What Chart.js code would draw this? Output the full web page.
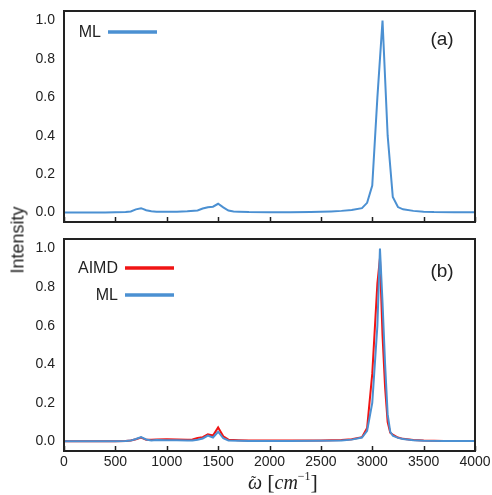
<!DOCTYPE html>
<html>
<head>
<meta charset="utf-8">
<script src="https://cdn.jsdelivr.net/npm/chart.js@4.4.0/dist/chart.umd.min.js"></script>
<style>
  body { margin: 0; background: #fff; }
  #wrap { position: relative; width: 492px; height: 495px; }
  canvas { position: absolute; left: 0; }
  #topChart { top: 0; }
  #bottomChart { top: 230px; }
  #ytitle {
    position: absolute; left: 18px; top: 240px;
    transform: translate(-50%, -50%) rotate(-90deg);
    font: 18px 'Liberation Sans', Arial, sans-serif; color: #222; white-space: nowrap;
  }
  #xtitle {
    position: absolute; left: 283px; top: 469px; transform: translateX(-50%);
    font: italic 20px 'Liberation Serif', serif; color: #222; white-space: nowrap;
  }
  #xtitle .br { font-style: normal; font-size: 22px; }
  #xtitle .om { position: relative; }
  #xtitle .tl { position: absolute; left: 3px; top: 2px; font-style: normal; font-size: 16px; }
  #xtitle .sp { position: relative; top: -9px; font-size: 12px; font-style: normal; }
</style>
</head>
<body>
<div id="wrap">
  <canvas id="topChart" width="492" height="230"></canvas>
  <canvas id="bottomChart" width="492" height="265"></canvas>
  <div id="ytitle">Intensity</div>
  <div id="xtitle"><span class="om">ω<span class="tl">˜</span></span> <span class="br">[</span>cm<span class="sp">−1</span><span class="br">]</span></div>
</div>
<script>
// axis ticks
const xTicks = [0, 500, 1000, 1500, 2000, 2500, 3000, 3500, 4000];
const yTicks = [0, 0.2, 0.4, 0.6, 0.8, 1.0];

// panel (a): ML spectrum
const topX = [0, 100, 200, 300, 400, 500, 600, 650, 700, 750, 800, 850, 900, 1000, 1100, 1200,
  1300, 1350, 1400, 1450, 1500, 1550, 1600, 1650, 1700, 1800, 2000, 2200, 2400, 2500, 2600, 2700,
  2800, 2900, 2950, 3000, 3050, 3100, 3150, 3200, 3250, 3300, 3400, 3500, 3600, 3800, 4000];
const topML = [0, 0, 0, 0, 0, 0.001, 0.002, 0.005, 0.016, 0.022, 0.011, 0.006, 0.004, 0.003, 0.004, 0.006,
  0.01, 0.02, 0.027, 0.03, 0.045, 0.026, 0.01, 0.005, 0.004, 0.002, 0.001, 0.001, 0.002, 0.003, 0.005, 0.008,
  0.013, 0.022, 0.05, 0.14, 0.6, 1.0, 0.4, 0.08, 0.028, 0.016, 0.008, 0.004, 0.002, 0.001, 0.001];

// panel (b): AIMD vs ML
const botX = [0, 100, 200, 300, 400, 500, 600, 650, 700, 750, 800, 850, 900, 1000, 1100, 1200,
  1250, 1300, 1350, 1400, 1450, 1500, 1550, 1600, 1700, 1800, 2000, 2200, 2500, 2700, 2800, 2900,
  2950, 3000, 3050, 3075, 3100, 3125, 3150, 3175, 3200, 3250, 3300, 3400, 3500, 3700, 4000];
const botAIMD = [0, 0, 0, 0, 0, 0.001, 0.002, 0.005, 0.011, 0.02, 0.008, 0.009, 0.01, 0.011, 0.01, 0.008,
  0.01, 0.017, 0.022, 0.036, 0.03, 0.072, 0.026, 0.009, 0.006, 0.004, 0.004, 0.004, 0.005, 0.007, 0.011, 0.022,
  0.07, 0.35, 0.82, 0.95, 0.55, 0.28, 0.1, 0.045, 0.035, 0.02, 0.013, 0.007, 0.004, 0.002, 0.002];
const botML = [0, 0, 0, 0, 0, 0.001, 0.002, 0.004, 0.012, 0.022, 0.01, 0.005, 0.007, 0.006, 0.006, 0.004,
  0.005, 0.008, 0.015, 0.03, 0.02, 0.05, 0.016, 0.005, 0.003, 0.002, 0.002, 0.002, 0.003, 0.005, 0.009, 0.02,
  0.055, 0.2, 0.6, 1.0, 0.72, 0.4, 0.14, 0.05, 0.03, 0.018, 0.012, 0.006, 0.003, 0.002, 0.002];

const BLUE = '#4b90d2';
const RED = '#f01414';
const FONT = "'Liberation Sans', Arial, sans-serif";

const toPoints = (xs, ys) => xs.map((x, i) => ({ x, y: ys[i] }));

// frame, inward ticks, legend with line on the right, panel tag
const decorPlugin = {
  id: 'decor',
  afterDraw(chart, args, opts) {
    const { ctx, chartArea: a, scales: { x } } = chart;
    ctx.save();
    ctx.strokeStyle = '#222';
    ctx.lineWidth = 1.5;
    x.ticks.forEach(t => {
      const px = Math.round(x.getPixelForValue(t.value)) + 0.5;
      ctx.beginPath();
      ctx.moveTo(px, a.bottom);
      ctx.lineTo(px, a.bottom - 5);
      ctx.stroke();
    });
    ctx.lineWidth = 2;
    ctx.strokeRect(a.left, a.top, a.right - a.left, a.bottom - a.top);

    ctx.font = '16px ' + FONT;
    ctx.fillStyle = '#222';
    ctx.textAlign = 'right';
    ctx.textBaseline = 'middle';
    chart.data.datasets.forEach((ds, i) => {
      const y = opts.legendY[i];
      ctx.fillText(ds.label, opts.legendX - 7, y + 1);
      ctx.strokeStyle = ds.borderColor;
      ctx.lineWidth = 3.5;
      ctx.beginPath();
      ctx.moveTo(opts.legendX, y);
      ctx.lineTo(opts.legendX + 49, y);
      ctx.stroke();
    });

    ctx.font = '19px ' + FONT;
    ctx.textAlign = 'center';
    ctx.fillStyle = '#222';
    ctx.fillText(opts.tag, 442, opts.tagY);
    ctx.restore();
  }
};

const makeChart = (id, datasets, cfg) => new Chart(document.getElementById(id), {
  type: 'line',
  data: { datasets },
  options: {
    responsive: false,
    animation: false,
    layout: { padding: { top: cfg.top, right: 17, bottom: cfg.bottom, left: 0 } },
    elements: { point: { radius: 0 }, line: { borderWidth: 2, tension: 0 } },
    plugins: {
      legend: { display: false },
      tooltip: { enabled: false },
      decor: cfg.decor
    },
    scales: {
      x: {
        type: 'linear', min: 0, max: 4000,
        afterBuildTicks: s => { s.ticks = xTicks.map(v => ({ value: v })); },
        grid: { display: false, drawTicks: false },
        border: { display: false },
        ticks: { display: cfg.xLabels, padding: 3, color: '#222', font: { family: FONT, size: 14 },
                 callback: v => String(v) },
        afterFit: s => { s.height = cfg.xHeight; s.paddingLeft = 0; s.paddingRight = 0; }
      },
      y: {
        min: -0.05, max: 1.05,
        afterBuildTicks: s => { s.ticks = yTicks.map(v => ({ value: v })); },
        grid: { display: false, drawTicks: false },
        border: { display: false },
        ticks: { padding: 9, color: '#222', font: { family: FONT, size: 14 }, callback: v => v.toFixed(1) },
        afterFit: s => { s.width = 64; s.paddingTop = 0; s.paddingBottom = 0; }
      }
    }
  },
  plugins: [decorPlugin]
});

makeChart('topChart', [
  { label: 'ML', data: toPoints(topX, topML), borderColor: BLUE }
], { top: 11, bottom: 8, xHeight: 0, xLabels: false,
     decor: { legendX: 108, legendY: [32], tag: '(a)', tagY: 40 } });

makeChart('bottomChart', [
  { label: 'AIMD', data: toPoints(botX, botAIMD), borderColor: RED, order: 1 },
  { label: 'ML', data: toPoints(botX, botML), borderColor: BLUE, order: 0 }
], { top: 9, bottom: 0, xHeight: 44, xLabels: true,
     decor: { legendX: 125, legendY: [38, 65], tag: '(b)', tagY: 42 } });
</script>
</body>
</html>
